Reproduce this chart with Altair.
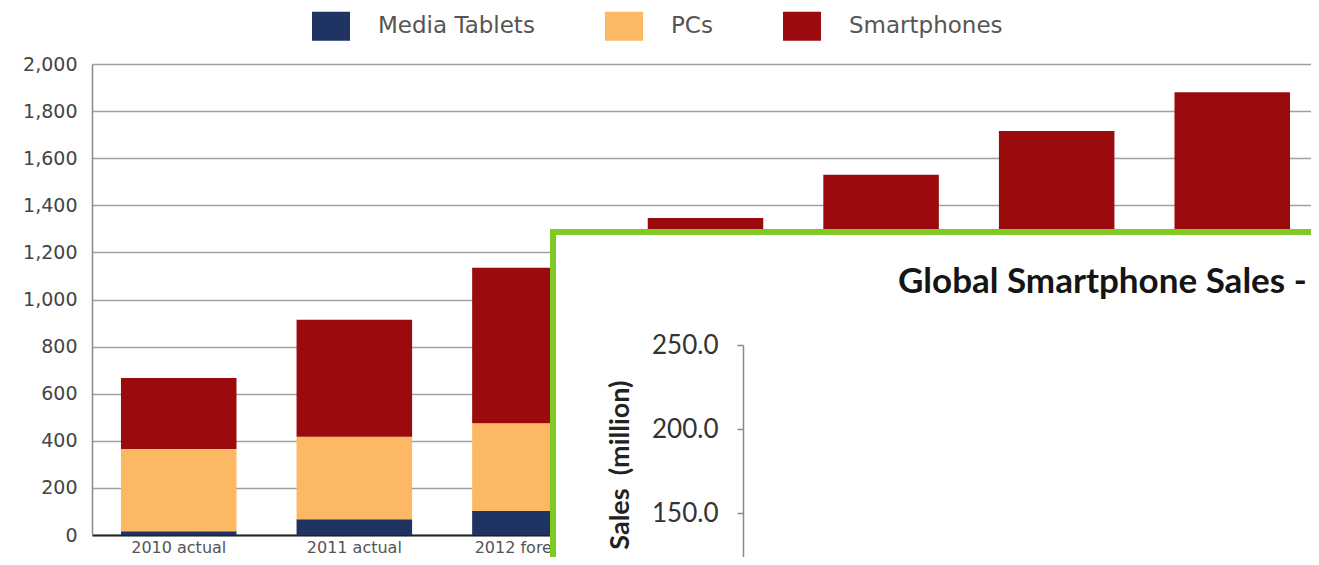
import altair as alt
import pandas as pd

# ---- data (hidden parts estimated) ----
years = ["2010 actual", "2011 actual", "2012 forecast", "2013 forecast",
         "2014 forecast", "2015 forecast", "2016 forecast"]
media_tablets = [16, 67, 102, 130, 160, 190, 220]
pcs = [349, 350, 373, 390, 405, 420, 440]
smartphones = [302, 497, 660, 826, 965, 1105, 1220]

segments = ["Media Tablets", "PCs", "Smartphones"]
seg_colors = ["#1f3462", "#fcb862", "#9b0a0d"]

y_ticks = list(range(0, 2001, 200))

inset_title = "Global Smartphone Sales -"
inset_axis_title = "Sales\u00a0\u00a0(million)"
inset_ticks = [150, 200, 250]

rows = []
for i, yr in enumerate(years):
    for k, (seg, vals) in enumerate(zip(segments, [media_tablets, pcs, smartphones])):
        rows.append({"year": yr, "segment": seg, "value": vals[i], "order": k})
df = pd.DataFrame(rows)

bars = alt.Chart(df).mark_bar().encode(
    x=alt.X("year:N", sort=years,
            scale=alt.Scale(range=[0, 1227], paddingInner=0.342, paddingOuter=0.165),
            axis=alt.Axis(title=None, labelAngle=0, ticks=False,
                          labelFont="DejaVu Sans", labelFontSize=16,
                          labelColor="#555", labelPadding=4,
                          domainColor="#222", domainWidth=2, grid=False)),
    y=alt.Y("value:Q", stack="zero",
            scale=alt.Scale(domain=[0, 2000], nice=False),
            axis=alt.Axis(title=None, values=y_ticks, format=",d", ticks=False,
                          labelFont="DejaVu Sans", labelFontSize=19,
                          labelColor="#444", labelPadding=15,
                          domainColor="#8a8a8a", domainWidth=1.5,
                          gridColor="#a0a0a0", gridWidth=1.3)),
    color=alt.Color("segment:N",
                    scale=alt.Scale(domain=segments, range=seg_colors),
                    legend=alt.Legend(orient="none", legendX=220, legendY=-57,
                                      direction="horizontal", title=None,
                                      labelFont="DejaVu Sans", labelFontSize=23,
                                      labelColor="#555",
                                      symbolType="M-1,-0.76H1V0.76H-1Z",
                                      symbolSize=1444, symbolStrokeWidth=0,
                                      labelOffset=28, columnPadding=70,
                                      padding=0)),
    order=alt.Order("order:Q"),
)

box_df = pd.DataFrame({"label": [inset_title]})

inset_box = alt.Chart(box_df).mark_rect(
    fill="white", stroke="#80c924", strokeWidth=6
).encode(
    x=alt.value(461), x2=alt.value(1500),
    y=alt.value(168), y2=alt.value(800),
)

inset_axis_df = pd.DataFrame({"sales": inset_ticks})
inset_axis = alt.Chart(inset_axis_df).mark_point(opacity=0).encode(
    y=alt.Y("sales:Q",
            scale=alt.Scale(domain=[0, 250], range=[701, 281], nice=False, zero=True),
            axis=alt.Axis(orient="left", offset=-651, values=inset_ticks,
                          format=".1f", grid=False, zindex=2,
                          tickSize=6, tickColor="#888", domainColor="#888",
                          domainWidth=1.5, tickWidth=1.5,
                          labelFont="Lato", labelFontSize=26, labelColor="#333",
                          labelPadding=19,
                          title=inset_axis_title, titleFont="Lato",
                          titleFontSize=27, titleFontWeight="bold",
                          titleColor="#222", titleAngle=270,
                          titleAlign="right", titleBaseline="middle",
                          titleX=-123, titleY=316)),
)

inset_text = alt.Chart(box_df).mark_text(
    align="left", baseline="alphabetic", font="Lato", fontSize=35,
    fontWeight="bold", color="#151515"
).encode(
    x=alt.value(806), y=alt.value(229), text="label:N"
)

chart = alt.layer(bars, inset_box, inset_axis, inset_text).resolve_scale(
    y="independent"
).resolve_axis(y="independent").properties(
    width=1219, height=471,
    autosize=alt.AutoSizeParams(type="none"),
    padding={"left": 84, "top": 56, "right": 0, "bottom": 22},
).configure_view(strokeWidth=0)

chart.save("out.html", embed_options={"renderer": "svg", "actions": False})
